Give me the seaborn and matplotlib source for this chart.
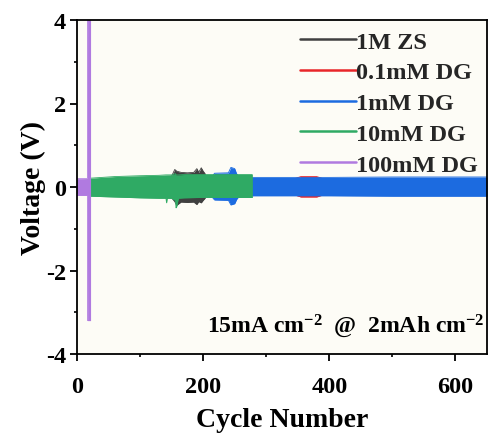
import numpy as np
import pandas as pd
import matplotlib
matplotlib.use("Agg")
import matplotlib.pyplot as plt
from matplotlib.lines import Line2D
import seaborn as sns

# ---- data (envelopes of the voltage profiles) ----
series_names = ["1M ZS", "0.1mM DG", "1mM DG", "10mM DG", "100mM DG"]
colors = ["#404040", "#e8262a", "#1c6be0", "#2faa64", "#b07ae0"]

zs_cycle = [0, 50, 100, 150, 155, 158, 165, 175, 185, 190, 193, 197, 200, 203, 206]
zs_upper = [0.15, 0.2, 0.22, 0.26, 0.42, 0.38, 0.35, 0.34, 0.35, 0.44, 0.35, 0.46, 0.38, 0.32, 0.15]
zs_lower = [-0.15, -0.2, -0.22, -0.26, -0.35, -0.44, -0.36, -0.37, -0.36, -0.42, -0.35, -0.38, -0.32, -0.27, -0.15]

r01_cycle = [0, 100, 200, 300, 345, 355, 380, 390]
r01_upper = [0.15, 0.18, 0.19, 0.2, 0.2, 0.25, 0.25, 0.2]
r01_lower = [-0.15, -0.17, -0.18, -0.19, -0.19, -0.24, -0.24, -0.19]

b1_cycle = [0, 100, 200, 214, 218, 240, 244, 250, 253, 256, 280, 400, 500, 650]
b1_upper = [0.15, 0.18, 0.2, 0.24, 0.33, 0.34, 0.47, 0.44, 0.32, 0.26, 0.23, 0.23, 0.24, 0.24]
b1_lower = [-0.15, -0.17, -0.19, -0.24, -0.31, -0.32, -0.43, -0.40, -0.30, -0.24, -0.21, -0.21, -0.22, -0.22]

g10_cycle = [19.6, 20, 40, 60, 80, 100, 130, 141, 142, 143, 150, 156, 157, 158, 160, 161, 170, 200, 230, 260, 278]
g10_upper = [0.21, 0.21, 0.23, 0.25, 0.26, 0.27, 0.28, 0.29, 0.29, 0.29, 0.29, 0.32, 0.29, 0.29, 0.29, 0.29, 0.3, 0.3, 0.3, 0.3, 0.3]
g10_lower = [-0.22, -0.22, -0.23, -0.24, -0.25, -0.26, -0.27, -0.27, -0.38, -0.27, -0.27, -0.32, -0.5, -0.47, -0.32, -0.27, -0.26, -0.25, -0.25, -0.25, -0.25]

p100_cycle = [0, 16.5, 16.8, 21.5]
p100_upper = [0.2, 0.2, 4.6, 4.6]
p100_lower = [-0.2, -0.2, -3.2, -3.2]

x_ticks = [0, 200, 400, 600]
y_ticks = [-4, -2, 0, 2, 4]
annotation = "15mA cm$^{-2}$  @  2mAh cm$^{-2}$"

envelopes = [
    (zs_cycle, zs_upper, zs_lower),
    (r01_cycle, r01_upper, r01_lower),
    (b1_cycle, b1_upper, b1_lower),
    (g10_cycle, g10_upper, g10_lower),
    (p100_cycle, p100_upper, p100_lower),
]

sns.set_theme(style="ticks")
plt.rcParams["font.family"] = ["Liberation Serif", "DejaVu Serif"]
plt.rcParams["font.weight"] = "bold"
plt.rcParams["axes.unicode_minus"] = False
plt.rcParams["mathtext.fontset"] = "custom"
plt.rcParams["mathtext.rm"] = "Liberation Serif:bold"
plt.rcParams["mathtext.bf"] = "Liberation Serif:bold"
plt.rcParams["mathtext.it"] = "Liberation Serif:bold:italic"

fig = plt.figure(figsize=(4.88, 4.35), dpi=100)
ax = fig.add_axes([77 / 488, 1 - 355 / 435, 410 / 488, (355 - 21) / 435])
ax.set_facecolor("#fdfcf6")

for z, (name, color, (cyc, up, lo)) in enumerate(zip(series_names, colors, envelopes)):
    ax.fill_between(cyc, lo, up, color=color, linewidth=0, zorder=2 + z)
    edge = pd.DataFrame({"cycle": list(cyc) + list(cyc),
                         "voltage": list(up) + list(lo),
                         "side": ["up"] * len(cyc) + ["lo"] * len(cyc)})
    sns.lineplot(data=edge, x="cycle", y="voltage", units="side", estimator=None,
                 color=color, linewidth=0.6, ax=ax, zorder=2 + z, legend=False)

ax.set_xlim(0, 650)
ax.set_ylim(-4, 4)
ax.set_xticks(x_ticks)
ax.set_yticks(y_ticks)
ax.set_xticks([100, 300, 500], minor=True)
ax.set_yticks([-3, -1, 1, 3], minor=True)
ax.tick_params(axis="both", which="major", direction="out", length=5, width=1.3,
               labelsize=17.5, pad=3, color="black", labelcolor="black")
ax.tick_params(axis="x", which="major", pad=11)
ax.tick_params(axis="both", which="minor", direction="out", length=2.5, width=1.2,
               color="black")
for lab in ax.get_xticklabels() + ax.get_yticklabels():
    lab.set_fontweight("bold")
for sp in ax.spines.values():
    sp.set_visible(True)
    sp.set_linewidth(1.3)
    sp.set_color("black")
    sp.set_zorder(10)

ax.set_xlabel("Cycle Number", fontsize=20, fontweight="bold", labelpad=7, color="black")
ax.set_ylabel("Voltage (V)", fontsize=20, fontweight="bold", labelpad=0, color="black")

handles = [Line2D([], [], color=c, lw=1.8) for c in colors]
leg = ax.legend(handles, series_names, loc="upper left", bbox_to_anchor=(0.545, 0.968),
                frameon=False, fontsize=17.5, handlelength=2.3, handletextpad=0.0,
                labelspacing=0.36, borderpad=0, borderaxespad=0)
for t in leg.get_texts():
    t.set_fontweight("bold")

ax.text(0.993, 0.045, annotation, transform=ax.transAxes, ha="right", va="bottom",
        fontsize=17, fontweight="bold", color="black")

fig.savefig("out.png", dpi=100, facecolor="white")
